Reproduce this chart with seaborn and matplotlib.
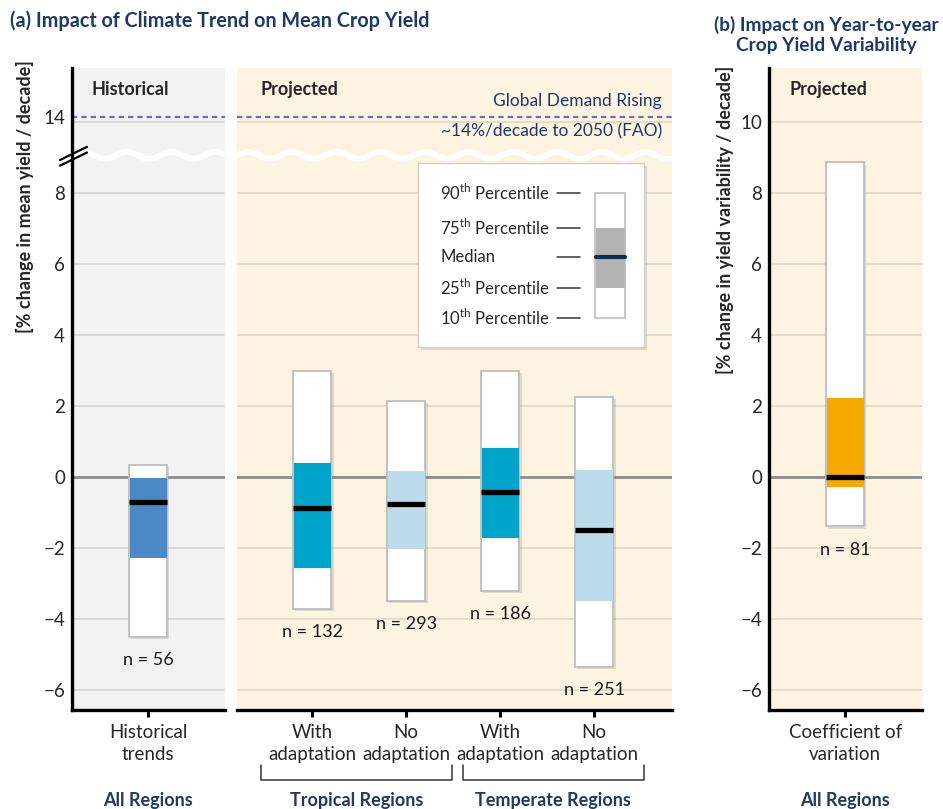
import numpy as np
import seaborn as sns
import matplotlib.pyplot as plt
import matplotlib.patheffects as pe

# values (percentiles, % per decade)
hist_keys = ['Historical trends']
hist_labels = ['Historical\ntrends']
hist_p10 = [-4.50]
hist_p25 = [-2.27]
hist_med = [-0.68]
hist_p75 = [-0.02]
hist_p90 = [0.34]
hist_n = [56]

proj_keys = ['Tropical with', 'Tropical no', 'Temperate with', 'Temperate no']
proj_labels = ['With\nadaptation', 'No\nadaptation', 'With\nadaptation', 'No\nadaptation']
proj_p10 = [-3.71, -3.48, -3.20, -5.33]
proj_p25 = [-2.55, -2.01, -1.70, -3.48]
proj_med = [-0.85, -0.74, -0.40, -1.47]
proj_p75 = [0.40, 0.17, 0.82, 0.20]
proj_p90 = [3.00, 2.15, 3.00, 2.27]
proj_n = [132, 293, 186, 251]

var_keys = ['Coefficient of variation']
var_labels = ['Coefficient of\nvariation']
var_p10 = [-1.38]
var_p25 = [-0.26]
var_med = [0.02]
var_p75 = [2.23]
var_p90 = [8.87]
var_n = [81]

demand = 14          # FAO global demand line, shown above the axis break
yticks_a = [-6, -4, -2, 0, 2, 4, 6, 8]
yticks_b = [-6, -4, -2, 0, 2, 4, 6, 8, 10]

NAVY = '#1d3a66'
C_HIST = '#4b88c6'
C_WITH = '#00a3c9'
C_NO = '#bcdcec'
C_VAR = '#f6aa00'
BG_GRAY = '#f2f2f2'
BG_BEIGE = '#fcf3e1'

sns.set_theme(style='white')
plt.rcParams['font.family'] = ['Lato', 'DejaVu Sans']
plt.rcParams['mathtext.fontset'] = 'custom'
plt.rcParams['mathtext.rm'] = 'Lato'

W, H = 943, 809
fig = plt.figure(figsize=(W / 100, H / 100), dpi=100)


def px_axes(left, right, top, bottom):
    return fig.add_axes([left / W, 1 - bottom / H, (right - left) / W, (bottom - top) / H])


ax_h = px_axes(72, 225, 68, 710)
ax_p = px_axes(237, 672, 68, 710)
ax_v = px_axes(769, 922, 68, 710)

YLIM = (-6.55, 11.53)
BREAK = 9.07
DEMAND_POS = 10.15   # where the broken axis puts the 14 line


def minus(v):
    return str(v).replace('-', '\u2212')


shadow = [pe.withSimplePatchShadow(offset=(1.5, -1.5), shadow_rgbFace='#888888', alpha=0.25)]


def draw_boxes(ax, keys, p10, p25, med, p75, p90, n, colors):
    sns.barplot(x=keys, y=np.subtract(p90, p10), bottom=p10, order=keys, width=0.41,
                color='white', saturation=1, facecolor='white', edgecolor='#bdbdbd',
                linewidth=1.3, errorbar=None, ax=ax, zorder=3, path_effects=shadow)
    sns.barplot(x=keys, y=np.subtract(p75, p25), bottom=p25, order=keys, width=0.395,
                color=colors[0], saturation=1, facecolor=colors, linewidth=0,
                errorbar=None, ax=ax, zorder=4)
    pos = np.arange(len(keys))
    ax.hlines(med, pos - 0.2, pos + 0.2, color='black', lw=3.8, zorder=5)
    for i in pos:
        ax.annotate(f'n = {n[i]}', (i, p10[i]), xytext=(0, -11), textcoords='offset points',
                    ha='center', va='top', fontsize=13, color='#1a1a1a')


def style_axes(ax, bg, grid_color, labels):
    ax.set_facecolor(bg)
    ax.set_ylim(*YLIM)
    for g in [t for t in yticks_b if t != 0]:
        ax.axhline(g, color=grid_color, lw=1.1, zorder=1)
    ax.axhline(0, color='#8c8c8c', lw=2, zorder=1)
    for s in ['top', 'right']:
        ax.spines[s].set_visible(False)
    ax.spines['bottom'].set_color('black')
    ax.spines['bottom'].set_linewidth(2.4)
    ax.spines['left'].set_color('black')
    ax.spines['left'].set_linewidth(2.4)
    ax.set_xticks(range(len(labels)))
    ax.set_xticklabels(labels, fontsize=13.5, linespacing=1.35)
    ax.tick_params(axis='x', direction='out', length=5, width=2.2, color='black', pad=5,
                   bottom=True)
    ax.tick_params(axis='y', length=0, pad=5, labelsize=13.5)
    ax.set_xlabel('')
    ax.set_ylabel('')


draw_boxes(ax_h, hist_keys, hist_p10, hist_p25, hist_med, hist_p75, hist_p90, hist_n, [C_HIST])
draw_boxes(ax_p, proj_keys, proj_p10, proj_p25, proj_med, proj_p75, proj_p90, proj_n,
           [C_WITH, C_NO, C_WITH, C_NO])
draw_boxes(ax_v, var_keys, var_p10, var_p25, var_med, var_p75, var_p90, var_n, [C_VAR])

style_axes(ax_h, BG_GRAY, '#cfcfcf', hist_labels)
style_axes(ax_p, BG_BEIGE, '#ddd5c5', proj_labels)
style_axes(ax_v, BG_BEIGE, '#ddd5c5', var_labels)

ax_h.set_xlim(-0.81, -0.81 + 153 / 94)
ax_p.set_xlim(-0.80, -0.80 + 435 / 94)
ax_v.set_xlim(-0.81, -0.81 + 153 / 94)

# panel (a): broken y axis with the demand line on top
ax_h.set_yticks(yticks_a + [DEMAND_POS])
ax_h.set_yticklabels([minus(t) for t in yticks_a] + [str(demand)])
ax_p.set_yticks([])
ax_p.spines['left'].set_visible(False)
ax_v.set_yticks(yticks_b)
ax_v.set_yticklabels([minus(t) for t in yticks_b])

for ax in (ax_h, ax_p):
    lo, hi = ax.get_xlim()
    xs = np.linspace(lo, hi, 600)
    ax.plot(xs, BREAK + 0.1 * np.sin(2 * np.pi * (xs - lo) / 0.47), color='white', lw=4.2,
            zorder=2, solid_capstyle='butt')
    ax.axhline(DEMAND_POS, color='#6d73a8', lw=1.6, ls=(0, (2.4, 1.8)), zorder=2)

for dy in (0.0, 0.16):
    ax_h.plot([-0.078, 0.098], [8.78 + dy, 9.15 + dy], color='black', lw=1.6, clip_on=False,
              transform=ax_h.get_yaxis_transform(), zorder=6)

ax_p.text(3.72, DEMAND_POS + 0.45, 'Global Demand Rising', ha='right', va='center',
          fontsize=12.5, color=NAVY)
ax_p.text(3.72, DEMAND_POS - 0.40, '~14%/decade to 2050 (FAO)', ha='right', va='center',
          fontsize=12.5, color=NAVY)

ax_h.text(0.13, 0.966, 'Historical', transform=ax_h.transAxes, fontsize=13,
          fontweight='bold', va='center')
ax_p.text(0.053, 0.966, 'Projected', transform=ax_p.transAxes, fontsize=13,
          fontweight='bold', va='center')
ax_v.text(0.137, 0.966, 'Projected', transform=ax_v.transAxes, fontsize=13,
          fontweight='bold', va='center')

# brackets and region labels
tr = ax_p.get_xaxis_transform()
for lo, hi in [(-0.55, 1.49), (1.60, 3.53)]:
    ax_p.plot([lo, lo, hi, hi], [-0.0857, -0.109, -0.109, -0.0857], color='#333333', lw=1.1,
              transform=tr, clip_on=False)
ax_p.text(0.47, -0.141, 'Tropical Regions', transform=tr, ha='center', va='center',
          fontsize=13, fontweight='bold', color=NAVY)
ax_p.text(2.56, -0.141, 'Temperate Regions', transform=tr, ha='center', va='center',
          fontsize=13, fontweight='bold', color=NAVY)
ax_h.text(0, -0.141, 'All Regions', transform=ax_h.get_xaxis_transform(), ha='center',
          va='center', fontsize=13, fontweight='bold', color=NAVY)
ax_v.text(0, -0.141, 'All Regions', transform=ax_v.get_xaxis_transform(), ha='center',
          va='center', fontsize=13, fontweight='bold', color=NAVY)

# titles and axis labels
fig.text(10 / W, 1 - 21 / H, '(a) Impact of Climate Trend on Mean Crop Yield', ha='left',
         va='center', fontsize=14.2, fontweight='bold', color=NAVY)
fig.text(826 / W, 1 - 35 / H, '(b) Impact on Year-to-year\nCrop Yield Variability',
         ha='center', va='center', fontsize=13.8, fontweight='bold', color=NAVY,
         linespacing=1.2)
fig.text(25 / W, 1 - 197 / H, '[% change in mean yield / decade]', rotation=90, ha='center',
         va='center', fontsize=13, fontweight='bold')
fig.text(725 / W, 1 - 220 / H, '[% change in yield variability / decade]', rotation=90,
         ha='center', va='center', fontsize=13, fontweight='bold')

# percentile key
leg = px_axes(418, 644, 163, 347)
leg.set_xlim(0, 226)
leg.set_ylim(184, 0)
leg.set_xticks([])
leg.set_yticks([])
leg.set_facecolor('white')
for s in leg.spines.values():
    s.set_color('#d0d0d0')
    s.set_linewidth(1)
leg.patch.set_path_effects([pe.withSimplePatchShadow(offset=(2, -2), shadow_rgbFace='#999999',
                                                     alpha=0.3)])
key_labels = ['90$^{\\mathrm{th}}$ Percentile', '75$^{\\mathrm{th}}$ Percentile', 'Median',
              '25$^{\\mathrm{th}}$ Percentile', '10$^{\\mathrm{th}}$ Percentile']
key_y = [30, 65, 94, 125, 155]
for lab, y in zip(key_labels, key_y):
    leg.text(22, y, lab, ha='left', va='center', fontsize=12)
    leg.plot([139, 162], [y, y], color='#333333', lw=1.1)
leg.bar(192, key_y[4] - key_y[0], bottom=key_y[0], width=30, color='white',
        edgecolor='#bdbdbd', linewidth=1.2)
leg.bar(192, key_y[3] - key_y[1], bottom=key_y[1], width=29, color='#b3b3b3', linewidth=0)
leg.plot([177.5, 206.5], [key_y[2], key_y[2]], color='#0c2d5a', lw=3)

fig.savefig('out.png', dpi=100)
